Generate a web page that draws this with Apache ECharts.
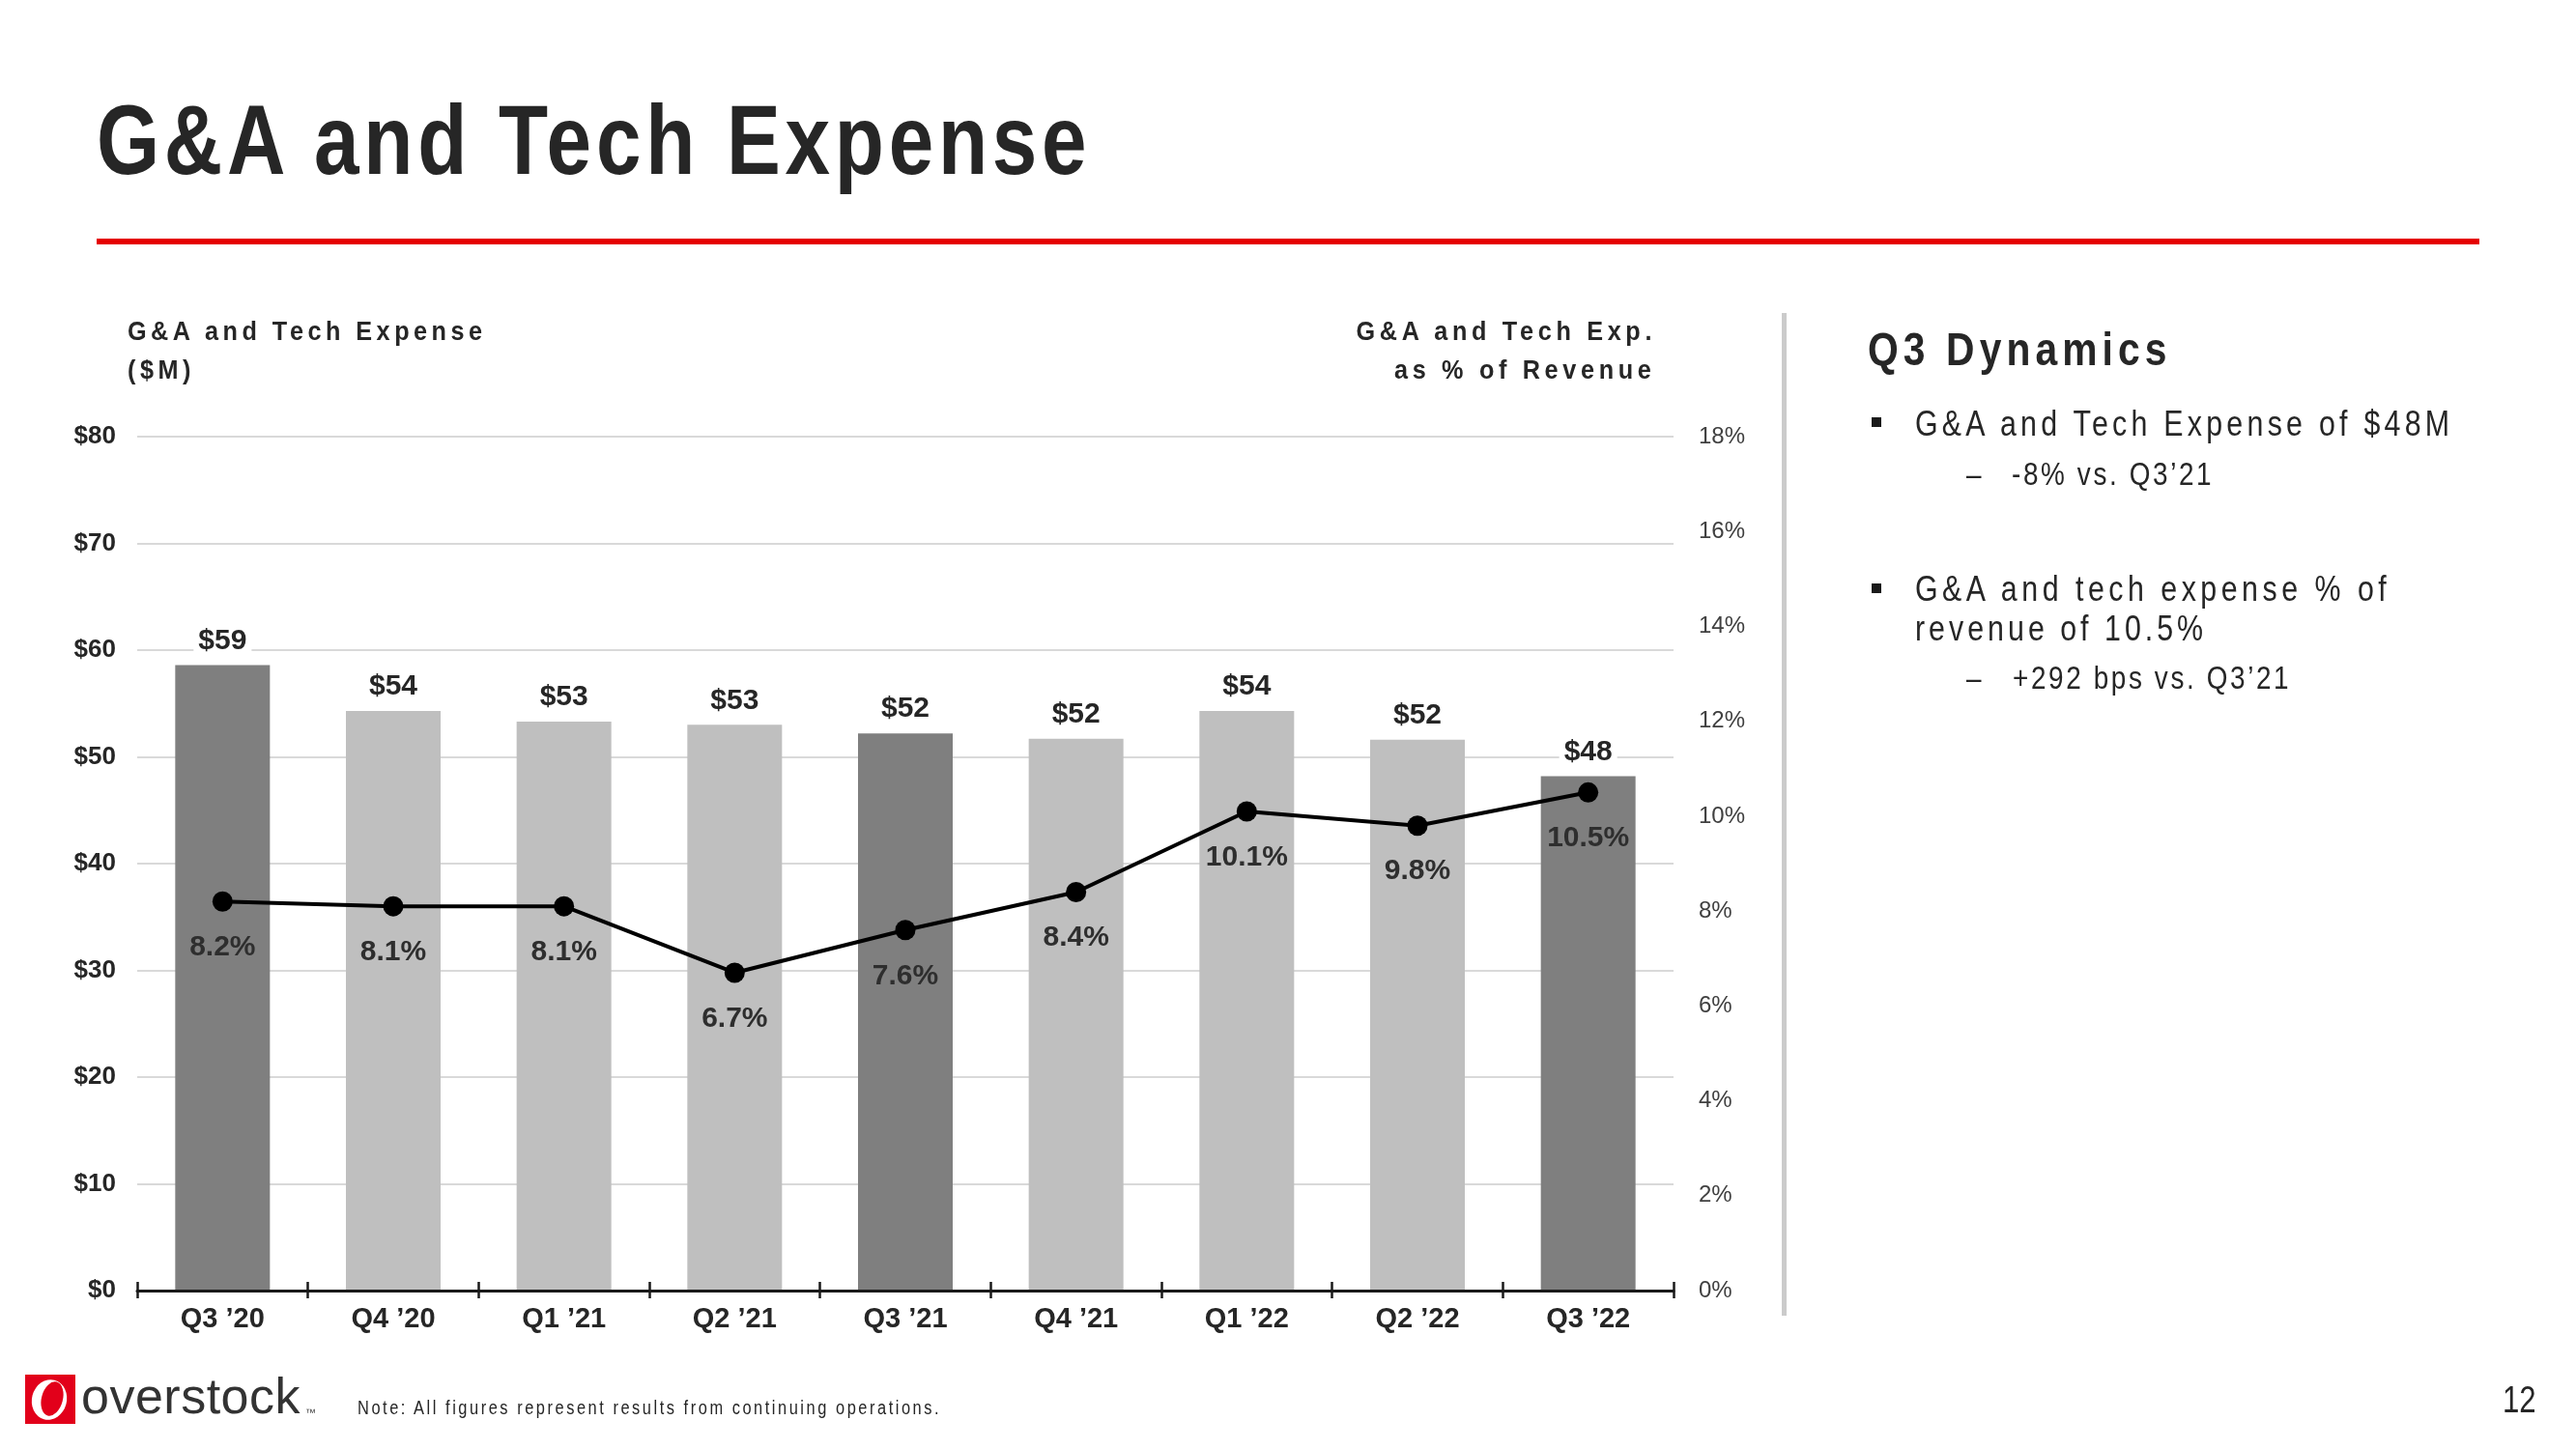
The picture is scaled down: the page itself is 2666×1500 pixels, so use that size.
<!DOCTYPE html>
<html>
<head>
<meta charset="utf-8">
<script src="https://cdn.jsdelivr.net/npm/echarts@6/dist/echarts.min.js"></script>
<style>
html,body{margin:0;padding:0;background:#fff;}
body{width:2666px;height:1500px;position:relative;overflow:hidden;}
#chart{position:absolute;left:0;top:0;width:2666px;height:1500px;}
.t{position:absolute;white-space:nowrap;line-height:1;font-family:'Liberation Sans',Arial,sans-serif;color:#262626;}
.deco{position:absolute;}
</style>
</head>
<body>
<div id="chart"></div>
<script>
// ---------------- data ----------------
const categories = ['Q3 \u201920','Q4 \u201920','Q1 \u201921','Q2 \u201921','Q3 \u201921','Q4 \u201921','Q1 \u201922','Q2 \u201922','Q3 \u201922'];
const expenseM = [58.6, 54.3, 53.3, 53.0, 52.2, 51.7, 54.3, 51.6, 48.2];
const pctRevenue = [8.2, 8.1, 8.1, 6.7, 7.6, 8.4, 10.1, 9.8, 10.5];
const highlightQuarters = ['Q3 \u201920','Q3 \u201921','Q3 \u201922'];
const expenseAxisMax = 80, expenseAxisStep = 10;
const pctAxisMax = 18, pctAxisStep = 2;

// ---------------- chart ----------------
const FONT = "'Liberation Sans', Arial, sans-serif";
const DARK = '#262626';
const chart = echarts.init(document.getElementById('chart'), null, {renderer: 'canvas'});
chart.setOption({
  animation: false,
  backgroundColor: 'transparent',
  grid: {left: 142, right: 934, top: 452, bottom: 164, containLabel: false},
  xAxis: [
    {
      type: 'category', data: categories, boundaryGap: true,
      axisLine: {show: true, lineStyle: {color: '#1a1a1a', width: 3}},
      axisTick: {show: true, inside: false, length: 8, lineStyle: {color: '#1a1a1a', width: 2.5}},
      axisLabel: {color: DARK, fontFamily: FONT, fontWeight: 'bold', fontSize: 29, margin: 15},
      splitLine: {show: false}, z: 5
    },
    {
      type: 'category', data: categories, boundaryGap: true, position: 'bottom',
      axisLine: {show: false},
      axisTick: {show: true, inside: true, length: 9, lineStyle: {color: '#1a1a1a', width: 2.5}},
      axisLabel: {show: false}, splitLine: {show: false}, z: 5
    }
  ],
  yAxis: [
    {
      type: 'value', min: 0, max: expenseAxisMax, interval: expenseAxisStep, position: 'left',
      axisLine: {show: false}, axisTick: {show: false},
      axisLabel: {formatter: v => '$' + v, color: DARK, fontFamily: FONT, fontWeight: 'bold', fontSize: 26, margin: 22},
      splitLine: {show: true, lineStyle: {color: '#d9d9d9', width: 2}}
    },
    {
      type: 'value', min: 0, max: pctAxisMax, interval: pctAxisStep, position: 'right',
      axisLine: {show: false}, axisTick: {show: false}, splitLine: {show: false},
      axisLabel: {formatter: '{value}%', color: '#404040', fontFamily: FONT, fontSize: 24, margin: 26}
    }
  ],
  series: [
    {
      type: 'bar', xAxisIndex: 0, yAxisIndex: 0, barWidth: 98, z: 2,
      data: expenseM.map((v, i) => ({
        value: v,
        itemStyle: {color: highlightQuarters.includes(categories[i]) ? '#7f7f7f' : '#bfbfbf'}
      })),
      label: {
        show: true, position: 'top', distance: 10,
        formatter: p => '$' + Math.round(p.value),
        color: DARK, fontFamily: FONT, fontWeight: 'bold', fontSize: 30,
        backgroundColor: '#ffffff', padding: [0, 5]
      }
    },
    {
      type: 'line', xAxisIndex: 0, yAxisIndex: 1, data: pctRevenue, z: 4,
      symbol: 'circle', symbolSize: 21,
      lineStyle: {color: '#000', width: 4},
      itemStyle: {color: '#000'},
      label: {
        show: true, position: 'bottom', distance: 22,
        formatter: p => p.value.toFixed(1) + '%',
        color: '#2e2e2e', fontFamily: FONT, fontWeight: 'bold', fontSize: 30
      }
    }
  ]
});

// ---------------- slide text (real text) ----------------
function addText(o) {
  const d = document.createElement('div');
  d.className = 't';
  d.textContent = o.text;
  const sx = o.sx || 1, ls = o.ls || 0;
  d.style.fontSize = o.size + 'px';
  d.style.fontWeight = o.bold ? '700' : '400';
  d.style.letterSpacing = ls + 'px';
  if (o.color) d.style.color = o.color;
  d.style.transform = 'scaleX(' + sx + ')';
  d.style.transformOrigin = (o.align === 'right' ? 'right' : 'left') + ' top';
  d.style.top = (o.base - 0.8465 * o.size) + 'px';
  if (o.align === 'right') d.style.right = (2666 - o.x - ls * sx) + 'px';
  else d.style.left = o.x + 'px';
  document.body.appendChild(d);
}
function addBox(x, y, w, h, color) {
  const d = document.createElement('div');
  d.className = 'deco';
  d.style.cssText += 'left:' + x + 'px;top:' + y + 'px;width:' + w + 'px;height:' + h + 'px;background:' + color + ';';
  document.body.appendChild(d);
}

// title + rule
addText({text: 'G&A and Tech Expense', x: 100, base: 180, size: 102, bold: true, sx: 0.82, ls: 5.8});
addBox(100, 247, 2466, 6, '#e50000');

// axis titles
addText({text: 'G&A and Tech Expense', x: 132, base: 353, size: 28, bold: true, sx: 0.9, ls: 5});
addText({text: '($M)', x: 132, base: 393, size: 28, bold: true, sx: 0.9, ls: 5});
addText({text: 'G&A and Tech Exp.', x: 1709, base: 353, size: 28, bold: true, sx: 0.9, ls: 5.2, align: 'right'});
addText({text: 'as % of Revenue', x: 1709, base: 393, size: 28, bold: true, sx: 0.9, ls: 5.2, align: 'right'});

// separator
addBox(1844, 324, 5, 1038, '#cbcbcb');

// right panel
addText({text: 'Q3 Dynamics', x: 1933, base: 379, size: 48, bold: true, sx: 0.85, ls: 6});
addBox(1937, 432, 10, 10, '#1a1a1a');
addText({text: 'G&A and Tech Expense of $48M', x: 1982, base: 451, size: 37, sx: 0.82, ls: 5.2});
addText({text: '\u2013', x: 2035, base: 502, size: 34, sx: 0.82});
addText({text: '-8% vs. Q3\u201921', x: 2082, base: 502, size: 34, sx: 0.82, ls: 3.2});
addBox(1937, 604, 10, 10, '#1a1a1a');
addText({text: 'G&A and tech expense % of', x: 1982, base: 622, size: 37, sx: 0.82, ls: 5.5});
addText({text: 'revenue of 10.5%', x: 1982, base: 663, size: 37, sx: 0.82, ls: 4.9});
addText({text: '\u2013', x: 2035, base: 713, size: 34, sx: 0.82});
addText({text: '+292 bps vs. Q3\u201921', x: 2083, base: 713, size: 34, sx: 0.82, ls: 3.2});

// footer
addText({text: 'Note: All figures represent results from continuing operations.', x: 370, base: 1464, size: 20, sx: 0.82, ls: 3.1});
addText({text: '12', x: 2590, base: 1462, size: 38, sx: 0.82});
addText({text: 'overstock', x: 84, base: 1463, size: 52, color: '#333333', ls: 0.5});
addText({text: '\u2122', x: 316, base: 1466, size: 11, color: '#333333'});
</script>
<svg style="position:absolute;left:26px;top:1423px" width="52" height="51" viewBox="0 0 52 51">
  <rect x="0" y="0" width="52" height="51" fill="#e2001a"/>
  <ellipse cx="25" cy="26" rx="18" ry="21" fill="#ffffff" transform="rotate(15 25 26)"/>
  <ellipse cx="28" cy="25" rx="11" ry="18" fill="#e2001a" transform="rotate(15 28 25)"/>
</svg>
</body>
</html>
